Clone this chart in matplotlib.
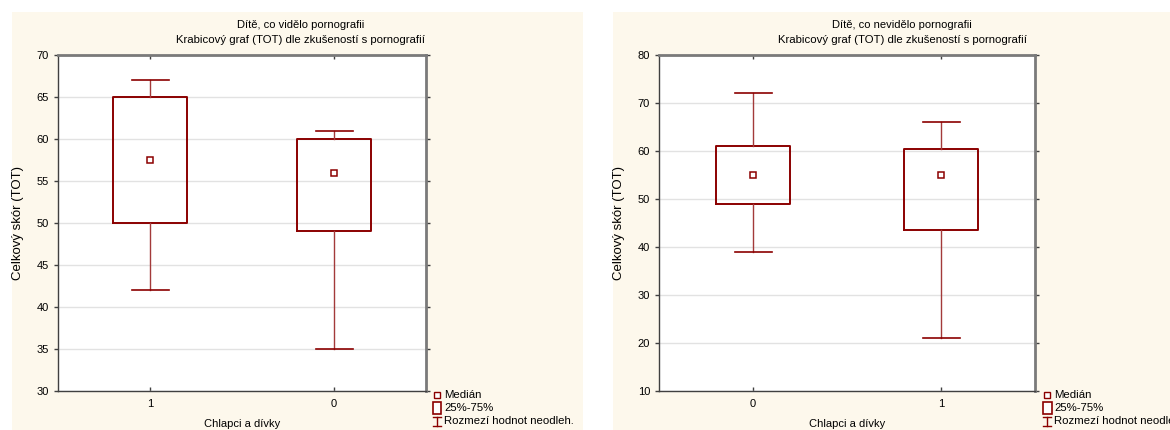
import matplotlib
matplotlib.use("Agg")
import matplotlib.pyplot as plt
from matplotlib.lines import Line2D
from matplotlib.patches import Rectangle

plt.rcParams['font.family'] = ['Liberation Sans', 'DejaVu Sans']

# ---- data ----
left_categories = ['1', '0']
left_q1 = [50, 49]
left_q3 = [65, 60]
left_low = [42, 35]
left_high = [67, 61]
left_median = [57.5, 56]
left_yticks = [30, 35, 40, 45, 50, 55, 60, 65, 70]
left_title = ["Dítě, co vidělo pornografii",
              "Krabicový graf (TOT) dle zkušeností s pornografií"]

right_categories = ['0', '1']
right_q1 = [49, 43.5]
right_q3 = [61, 60.5]
right_low = [39, 21]
right_high = [72, 66]
right_median = [55, 55]
right_yticks = [10, 20, 30, 40, 50, 60, 70, 80]
right_title = ["Dítě, co nevidělo pornografii",
               "Krabicový graf (TOT) dle zkušeností s pornografií"]

xlabel = "Chlapci a dívky"
ylabel = "Celkový skór (TOT)"
legend_labels = ["Medián", "25%-75%", "Rozmezí hodnot neodleh."]

W, H = 1170, 430
CREAM = '#fdf8ec'
RED = '#8b0000'

fig = plt.figure(figsize=(W / 100, H / 100), dpi=100)
fig.patch.set_facecolor('white')


def fx(x):
    return x / W


def fy(y):
    return 1 - y / H


def panel(px0, x0, x1, cats, q1, q3, lo, hi, med, yticks, title, legx):
    # cream background of the panel
    fig.add_artist(Rectangle((fx(px0), fy(430)), fx(571), fy(12) - fy(430),
                             transform=fig.transFigure, facecolor=CREAM,
                             edgecolor='none', zorder=0))
    y0, y1 = 55, 391
    ax = fig.add_axes([fx(x0), fy(y1), fx(x1) - fx(x0), fy(y0) - fy(y1)])
    ax.set_facecolor('white')
    positions = [1, 3]
    bw = 74 / (x1 - x0) * 4
    stats = []
    for i, c in enumerate(cats):
        stats.append(dict(med=med[i], q1=q1[i], q3=q3[i], whislo=lo[i], whishi=hi[i], label=c))
    ax.bxp(stats, positions=positions, widths=bw, showfliers=False,
           boxprops=dict(color=RED, linewidth=1.4),
           whiskerprops=dict(color='#a33a3a', linewidth=1.0),
           capprops=dict(color=RED, linewidth=1.2),
           medianprops=dict(linestyle='none'),
           capwidths=bw / 2, zorder=3)
    ax.plot(positions, med, linestyle='none', marker='s', markersize=4.5,
            markerfacecolor='white', markeredgecolor=RED, markeredgewidth=1.1, zorder=4)
    ax.set_xlim(0, 4)
    ax.set_ylim(yticks[0], yticks[-1])
    ax.set_yticks(yticks)
    ax.set_xticks(positions)
    ax.set_xticklabels(cats)
    ax.yaxis.grid(True, color='#e2e2e2', linewidth=1.0, zorder=0)
    ax.set_axisbelow(True)
    ax.tick_params(axis='y', which='both', direction='out', length=3, width=1,
                   color='#404040', labelsize=8, pad=3.5, right=True)
    ax.tick_params(axis='x', which='both', direction='in', length=3, width=1,
                   color='#404040', labelsize=8, pad=6, top=True)
    for s in ['left', 'bottom']:
        ax.spines[s].set_color('#404040')
        ax.spines[s].set_linewidth(1.0)
    for s in ['top', 'right']:
        ax.spines[s].set_color('#7a7a7a')
        ax.spines[s].set_linewidth(2.0)
    ax.set_xlabel(xlabel, fontsize=8, labelpad=7)
    ax.set_ylabel(ylabel, fontsize=9.5, labelpad=9)

    # title centred over the panel
    tcx = px0 + 289
    fig.text(fx(tcx), fy(25), title[0], fontsize=8, ha='center', va='center')
    fig.text(fx(tcx), fy(40), title[1], fontsize=8.2, ha='center', va='center')

    # legend
    ly = [395, 408, 421]
    fig.add_artist(Line2D([fx(legx + 1)], [fy(ly[0])], transform=fig.transFigure,
                          linestyle='none', marker='s', markersize=4,
                          markerfacecolor='white', markeredgecolor=RED, markeredgewidth=1))
    fig.add_artist(Rectangle((fx(legx - 3.5), fy(ly[1] + 6)), fx(9), fy(0) - fy(12),
                             transform=fig.transFigure, facecolor='white',
                             edgecolor=RED, linewidth=1.2))
    fig.add_artist(Line2D([fx(legx + 1), fx(legx + 1)], [fy(ly[2] - 4.5), fy(ly[2] + 4.5)],
                          transform=fig.transFigure, color=RED, linewidth=1))
    for yy in (ly[2] - 4.5, ly[2] + 4.5):
        fig.add_artist(Line2D([fx(legx - 3), fx(legx + 5)], [fy(yy), fy(yy)],
                              transform=fig.transFigure, color=RED, linewidth=1))
    for lab, yy in zip(legend_labels, ly):
        fig.text(fx(legx + 8), fy(yy), lab, fontsize=8.2, va='center', ha='left')
    return ax


panel(12, 58, 426, left_categories, left_q1, left_q3, left_low, left_high, left_median,
      left_yticks, left_title, 436)
panel(613, 659, 1035, right_categories, right_q1, right_q3, right_low, right_high,
      right_median, right_yticks, right_title, 1046)

fig.savefig('out.png', dpi=100, facecolor='white')
